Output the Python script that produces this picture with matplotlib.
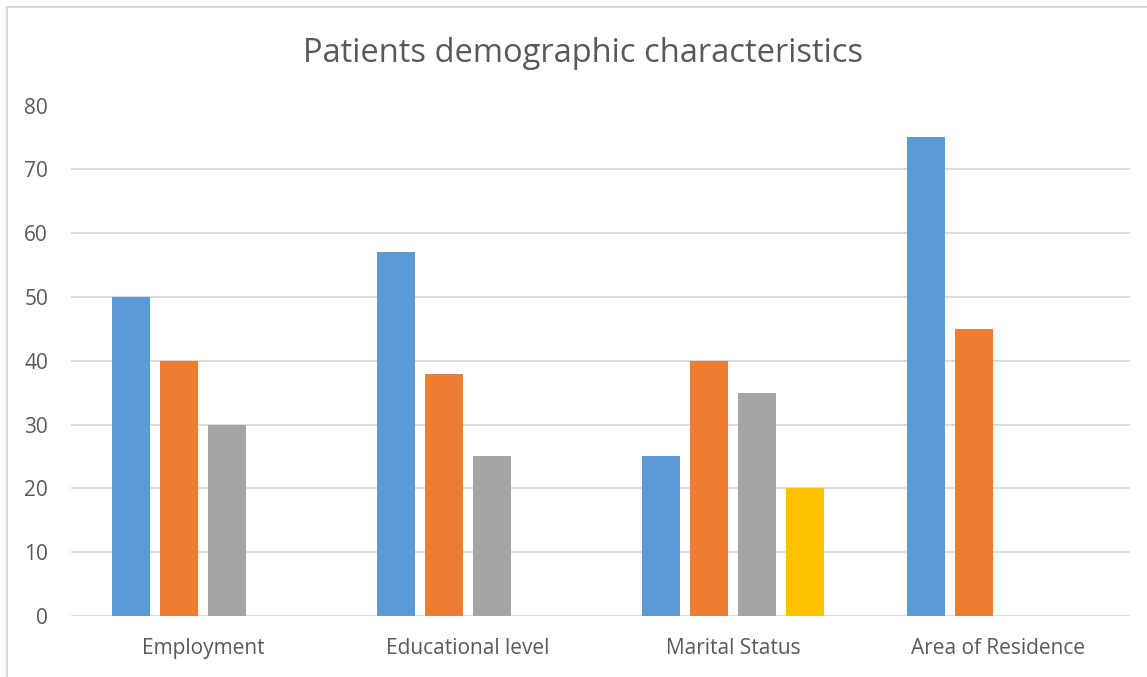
import numpy as np
import matplotlib
matplotlib.use('Agg')
import matplotlib.pyplot as plt
from matplotlib.lines import Line2D

categories = ['Employment', 'Educational level', 'Marital Status', 'Area of Residence']
series1 = [50, 57, 25, 75]
series2 = [40, 38, 40, 45]
series3 = [30, 25, 35, 0]
series4 = [0, 0, 20, 0]
colors = ['#5B9BD5', '#ED7D31', '#A5A5A5', '#FFC000']
yticks = [0, 10, 20, 30, 40, 50, 60, 70, 80]

text_color = '#595959'
plt.rcParams['font.family'] = ['Open Sans', 'DejaVu Sans']

fig = plt.figure(figsize=(11.47, 6.77), dpi=100)
ax = fig.add_axes([71 / 1147, 1 - 616 / 677, (1130 - 71) / 1147, (616 - 105.5) / 677])

x = np.arange(len(categories))
slot = 0.181
width = 0.1435
for i, vals in enumerate([series1, series2, series3, series4]):
    ax.bar(x + (i - 1.5) * slot, vals, width=width, color=colors[i], zorder=3)

ax.set_xlim(-0.5, len(categories) - 0.5)
ax.set_ylim(0, 80)
ax.set_yticks(yticks)
ax.set_xticks(x)
ax.set_xticklabels(categories)
ax.yaxis.grid(True, color='#D9D9D9', linewidth=1.3, zorder=0)
ax.tick_params(axis='both', length=0, colors=text_color, labelsize=15)
ax.tick_params(axis='y', pad=16.5)
ax.tick_params(axis='x', pad=16)
for s in ax.spines.values():
    s.set_visible(False)

fig.text(583 / 1147, 1 - 53 / 677, 'Patients demographic characteristics',
         ha='center', va='center', fontsize=23.5, color=text_color)

# chart area border (left and top edges visible)
fig.add_artist(Line2D([7 / 1147, 7 / 1147], [0, 1 - 7 / 677], color='#D9D9D9', linewidth=1.5))
fig.add_artist(Line2D([7 / 1147, 1], [1 - 7 / 677, 1 - 7 / 677], color='#D9D9D9', linewidth=1.5))

fig.savefig('out.png', dpi=100)
